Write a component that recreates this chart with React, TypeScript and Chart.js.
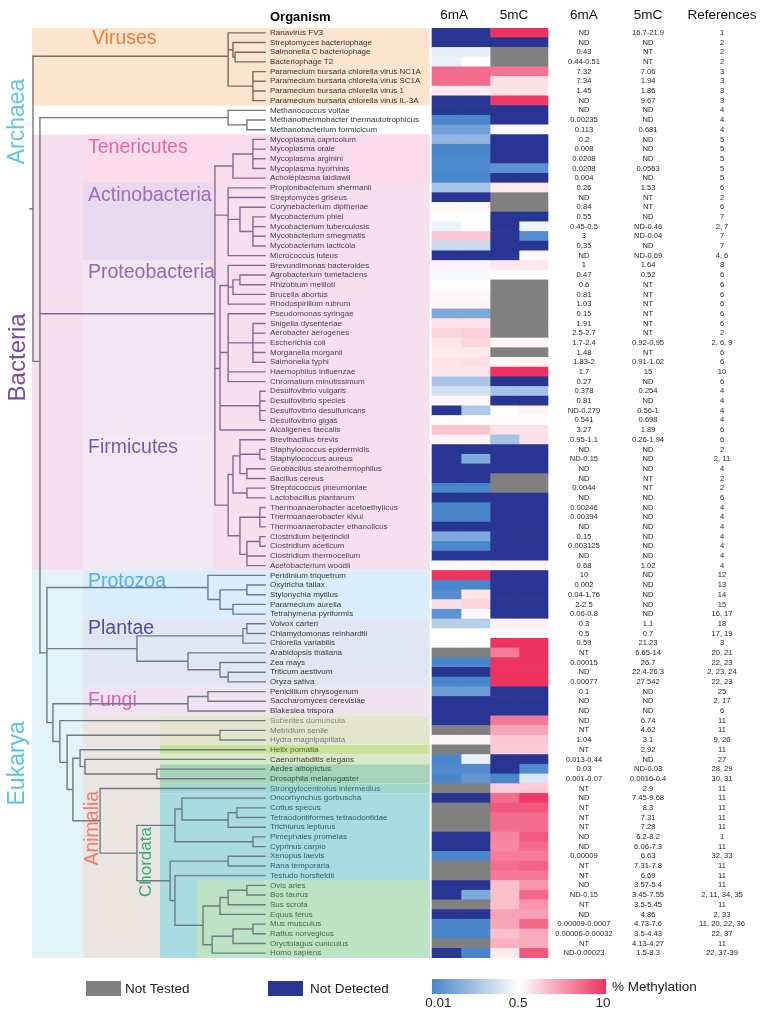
import { useEffect, useRef } from "react";
import { Chart, registerables } from "chart.js";

Chart.register(...registerables);

const FONT = '"Liberation Sans", Arial, Helvetica, sans-serif';
Chart.defaults.font.family = FONT;

const W = 767;
const H = 1017;

// ---------------- data ----------------
const ORGANISMS = [
  "Ranavirus FV3", "Streptomyces bacteriophage", "Salmonella C bacteriophage", "Bacteriophage T2",
  "Paramecium bursaria chlorella virus NC1A", "Paramecium bursaria chlorella virus SC1A",
  "Paramecium bursaria chlorella virus 1", "Paramecium bursaria chlorella virus IL-3A",
  "Methanococcus voltae", "Methanothermobacter thermautotrophicus", "Methanobacterium formicicum",
  "Mycoplasma capricolum", "Mycoplasma orale", "Mycoplasma arginini", "Mycoplasma hyorhinis", "Acholeplasma laidlawii",
  "Propionibacterium shermanii", "Streptomyces griseus", "Corynebacterium diptheriae", "Mycobacterium phlei",
  "Mycobacterium tuberculosis", "Mycobacterium smegmatis", "Mycobacterium lacticola", "Micrococcus luteus",
  "Brevundimonas bacteroides", "Agrobacterium tumefaciens", "Rhizobium meliloti", "Brucella abortus",
  "Rhodospirillum rubrum", "Pseudomonas syringae", "Shigella dysenteriae", "Aerobacter aerogenes",
  "Escherichia coli", "Morganella morganii", "Salmonella typhi", "Haemophilus influenzae",
  "Chromatium minutissimum", "Desulfovibrio vulgaris", "Desulfovibrio species", "Desulfovibrio desulfuricans",
  "Desulfovibrio gigas", "Alcaligenes faecalis", "Brevibacillus brevis", "Staphylococcus epidermidis",
  "Staphylococcus aureus", "Geobacillus stearothermophilus", "Bacillus cereus", "Streptococcus pneumoniae",
  "Lactobacillus plantarum", "Thermoanaerobacter acetoethylicus", "Thermoanaerobacter kivui",
  "Thermoanaerobacter ethanolicus", "Clostridium beijerinckii", "Clostridium aceticum", "Clostridium thermocellum",
  "Acetobacterium woodii", "Peridinium triquetrum", "Oxytricha fallax", "Stylonychia mytilus", "Paramecium aurelia",
  "Tetrahymena pyriformis", "Volvox carteri", "Chlamydomonas reinhardtii", "Chlorella variabilis",
  "Arabidopsis thaliana", "Zea mays", "Triticum aestivum", "Oryza sativa", "Penicillium chrysogenum",
  "Saccharomyces cerevisiae", "Blakeslea trispora", "Suberites domuncula", "Metridium senile",
  "Hydra magnipapillata", "Helix pomatia", "Caenorhabditis elegans", "Aedes albopictus", "Drosophila melanogaster",
  "Strongylocentrotus intermedius", "Oncorhynchus gorbuscha", "Cottus specus", "Tetraodontiformes tetraodontidae",
  "Trichiurus lepturus", "Pimephales promelas", "Cyprinus carpio", "Xenopus laevis", "Rana temporaria",
  "Testudo horsfieldii", "Ovis aries", "Bos taurus", "Sus scrofa", "Equus ferus", "Mus musculus",
  "Rattus norvegicus", "Oryctolagus cuniculus", "Homo sapiens",
];

const M6A = [
  "ND", "ND", "0.43", "0.44-0.51", "7.32", "7.34", "1.45", "ND", "ND", "0.00235", "0.113",
  "0.2", "0.008", "0.0208", "0.0208", "0.004", "0.26", "ND", "0.84", "0.55", "0.45-0.5", "3", "0.35", "ND",
  "1", "0.47", "0.6", "0.81", "1.03", "0.15", "1.91", "2.5-2.7", "1.7-2.4", "1.48", "1.83-2", "1.7", "0.27",
  "0.378", "0.81", "ND-0.279", "0.541", "3.27", "0.95-1.1", "ND", "ND-0.15", "ND", "ND", "0.0044", "ND",
  "0.00246", "0.00394", "ND", "0.15", "0.003125", "ND", "0.68", "10", "0.002", "0.04-1.76", "2-2.5",
  "0.06-0.8", "0.3", "0.5", "0.59", "NT", "0.00015", "ND", "0.00077", "0.1", "ND", "ND", "ND", "NT", "1.04",
  "NT", "0.013-0.44", "0.03", "0.001-0.07", "NT", "ND", "NT", "NT", "NT", "ND", "ND", "0.00009", "NT", "NT",
  "ND", "ND-0.15", "NT", "ND", "0.00009-0.0007", "0.00006-0.00032", "NT", "ND-0.00023",
];

const M5C = [
  "16.7-21.9", "ND", "NT", "NT", "7.06", "1.94", "1.86", "9.67", "ND", "ND", "0.681",
  "ND", "ND", "ND", "0.0563", "ND", "1.53", "NT", "NT", "ND", "ND-0.46", "ND-0.04", "ND", "ND-0.69",
  "1.64", "0.52", "NT", "NT", "NT", "NT", "NT", "NT", "0.92-0.95", "NT", "0.91-1.02", "15", "ND",
  "0.254", "ND", "0.56-1", "0.698", "1.89", "0.26-1.94", "ND", "ND", "ND", "NT", "NT", "ND",
  "ND", "ND", "ND", "ND", "ND", "ND", "1.02", "ND", "ND", "ND", "ND",
  "ND", "1.1", "0.7", "21.23", "6.65-14", "26.7", "22.4-26.3", "27.542", "ND", "ND", "ND", "6.74", "4.62", "3.1",
  "2.92", "ND", "ND-0.03", "0.0016-0.4", "2.9", "7.45-9.68", "8.3", "7.31", "7.28", "6.2-8.2", "6.06-7.3", "6.63", "7.31-7.8", "6.69",
  "3.57-5.4", "3.45-7.55", "3.5-5.45", "4.86", "4.73-7.6", "3.5-4.43", "4.13-4.27", "1.5-8.3",
];

const REFS = [
  "1", "2", "2", "2", "3", "3", "3", "3", "4", "4", "4",
  "5", "5", "5", "5", "5", "6", "2", "6", "7", "2, 7", "7", "7", "4, 6",
  "8", "6", "6", "6", "6", "6", "6", "2", "2, 6, 9", "6", "6", "10", "6",
  "4", "4", "4", "4", "6", "6", "2", "2, 11", "4", "2", "2", "6",
  "4", "4", "4", "4", "4", "4", "4", "12", "13", "14", "15",
  "16, 17", "18", "17, 19", "3", "20, 21", "22, 23", "2, 23, 24", "22, 23", "25", "2, 17", "6", "11", "11", "9, 26",
  "11", "27", "28, 29", "30, 31", "11", "11", "11", "11", "11", "1", "11", "32, 33", "11", "11",
  "11", "2, 11, 34, 35", "11", "2, 33", "11, 20, 22, 36", "22, 37", "11", "22, 37-39",
];

const LEGEND_TICKS = ["0.01", "0.5", "10"];

// tree: n(depth, ...children); leaves are row indices (depth 100)
type TNode = { d: number; kids: (TNode | number)[] };
const n = (d: number, ...kids: (TNode | number)[]): TNode => ({ d, kids });
const LEAF_DEPTH = 100;

const VIRUS_TREE = n(84.1, 0, n(86.2, 1, n(87.1, 2, 3)), n(94.8, 4, 5, 6, 7));
const ARCHAEA_TREE = n(84.1, 8, n(92.2, 9, 10));
const TENERICUTES_TREE = n(86.2, n(94.8, 11, 12, 13, 14), 15);
const ACTINO_TREE = n(84.1, 16, 17, n(89.2, 18, n(94.8, 19, 20, 21, 22)), 23);
const PROTEO_TREE = n(80.6,
  n(84.1, 24, n(86.2, n(89.2, 25, 26), 27), 28),
  n(84.1, 29, n(94.8, 30, 31, 32, 33, 34), 35, 36),
  n(97.8, 37, 38, 39, 40),
  41);
const FIRMICUTES_TREE = n(84.1,
  n(86.2, n(89.2, 42, n(97.8, 43, 44), n(92.2, 45, 46)), n(92.2, 47, 48)),
  n(89.2, n(97.8, 49, 50, 51), n(92.2, n(97.8, 52, 53), 54, 55)));
const PROTOZOA_TREE = n(75.4, 56, n(80.6, n(92.2, 57, 58), n(86.2, 59, 60)));
const PLANTAE_TREE = n(44.8, n(90.5, n(92.2, 61, 62), 63), n(66.8, 64, n(80.6, 65, n(84.1, 66, 67))));
const FUNGI_TREE = n(66.8, n(75.4, 68, 69), 70);
const MAMMAL_TREE = n(73.3,
  n(80.6, n(84.1, n(92.2, 88, 89), 90), 91),
  n(77.2, n(86.2, n(94.8, 92, 93), 94), 95));
const CHORDATA_TREE = n(44.8,
  n(61.2, n(64.2, 79, n(84.1, n(87.9, 80, 81), 82)), n(94.8, 83, 84)),
  n(59.1, n(84.1, 85, 86), n(61.2, 87, MAMMAL_TREE)));
const ANIMALIA_TREE = n(11.6, 71,
  n(14.7, n(80.6, 72, 73),
    n(17.2,
      n(20.3, 74, n(22.4, 75, n(53.4, 76, 77))),
      n(28.9, 78, CHORDATA_TREE))));
const TREE = n(0,
  VIRUS_TREE,
  n(3.0,
    ARCHAEA_TREE,
    n(78.4, TENERICUTES_TREE, ACTINO_TREE, PROTEO_TREE, FIRMICUTES_TREE),
    n(6.0, PROTOZOA_TREE, PLANTAE_TREE, n(8.6, FUNGI_TREE, ANIMALIA_TREE))));

// ---------------- layout / style ----------------
const ROW_TOP = 28;
const ROW_BOTTOM = 958;
const HEAT_LEFT = 432;
const CELL_W = 29;
const TREE_X0 = 33;
const TREE_K = 2.32;
const NAME_X = 270;
const COL_6MA = 5.24;
const COL_5MC = 7.45;
const COL_REF = 10.0;

const DOMAINS = [
  { from: 0, to: 7, line: "#7b6a5e" },
  { from: 8, to: 10, line: "#767676" },
  { from: 11, to: 55, line: "#806a96" },
  { from: 56, to: 95, line: "#6c7b86" },
];
const TRUNK = "#777777";

const BANDS: [number, number, number, number, string][] = [
  [0, 7, -0.4, 171, "#fde4cc"],
  [11, 55, -0.4, 171, "#f7e0ee"],
  [11, 15, 21.5, 171, "#fcdcea"],
  [16, 23, 21.5, 77.6, "#e7daee"],
  [24, 41, 21.5, 77.6, "#f3e6f3"],
  [42, 55, 21.5, 77.6, "#f2e9f5"],
  [56, 95, -0.4, 21.5, "#e2f3f8"],
  [56, 60, 21.5, 171, "#d9eefa"],
  [61, 67, 21.5, 171, "#e2e6f4"],
  [68, 70, 21.5, 171, "#f0e2f1"],
  [71, 95, 21.5, 54.7, "#ebe5e1"],
  [71, 73, 54.7, 171, "#e3e5ce"],
  [74, 74, 54.7, 171, "#c9e19b"],
  [75, 75, 54.7, 171, "#d8e8ca"],
  [76, 77, 54.7, 171, "#a6d4b6"],
  [78, 78, 54.7, 171, "#a2d7cd"],
  [79, 95, 54.7, 171, "#a9dce1"],
  [88, 95, 70.7, 171, "#bee3c4"],
];

const CLADE_LABELS = [
  { t: "Viruses", d: 25.4, r: 0.55, c: "#f07a3a", s: 19.5, rot: false },
  { t: "Tenericutes", d: 23.7, r: 11.8, c: "#df6aaa", s: 19.5, rot: false },
  { t: "Actinobacteria", d: 23.7, r: 16.85, c: "#a46ab9", s: 19.5, rot: false },
  { t: "Proteobacteria", d: 23.7, r: 24.7, c: "#9466b3", s: 19.5, rot: false },
  { t: "Firmicutes", d: 23.7, r: 42.85, c: "#6f5fb0", s: 19.5, rot: false },
  { t: "Protozoa", d: 23.7, r: 56.6, c: "#58aee8", s: 19.5, rot: false },
  { t: "Plantae", d: 23.7, r: 61.5, c: "#4d4e9e", s: 19.5, rot: false },
  { t: "Fungi", d: 23.7, r: 68.9, c: "#d466b4", s: 19.5, rot: false },
  { t: "Archaea", d: -6.6, r: 9.15, c: "#5ec9d9", s: 23, rot: true },
  { t: "Bacteria", d: -6.4, r: 33.5, c: "#7b4c9e", s: 24, rot: true },
  { t: "Eukarya", d: -6.6, r: 75.4, c: "#56c6e0", s: 23, rot: true },
  { t: "Animalia", d: 25.6, r: 82.1, c: "#f27b6c", s: 19.5, rot: true },
  { t: "Chordata", d: 48.7, r: 85.6, c: "#2fb272", s: 17, rot: true },
];

function nameColor(i: number): string {
  if (i <= 10) return "#333333";
  if (i <= 55) return "#4a3a5e";
  if (i <= 70) return "#383838";
  if (i === 71) return "#8c8c72";
  if (i <= 73) return "#757575";
  if (i === 74) return "#55661f";
  if (i === 75) return "#404040";
  if (i <= 77) return "#2d5a44";
  if (i === 78) return "#3f6f6a";
  if (i <= 87) return "#2f5f66";
  return "#3e6e40";
}

const BLUE = [74, 134, 204];
const RED = [239, 51, 97];
const ND_COLOR = "#283593";
const NT_COLOR = "#808080";

function mix(c: number[], t: number): string {
  const f = (k: number) => Math.round(255 + (c[k] - 255) * t);
  return `rgb(${f(0)},${f(1)},${f(2)})`;
}
function cellColor(token: string): string {
  if (token === "ND") return ND_COLOR;
  if (token === "NT") return NT_COLOR;
  const v = parseFloat(token);
  if (v <= 0.5) return mix(BLUE, Math.max(0, Math.min(1, (0.5 - v) / 0.49)));
  return mix(RED, Math.max(0, Math.min(1, (v - 0.5) / 9.5)));
}
function splitRange(s: string): [string, string] {
  const p = s.split("-");
  return p.length > 1 ? [p[0], p[1]] : [s, s];
}

// tree layout
type Seg = { x0: number; x1: number; y0: number; y1: number; lo: number; hi: number };
function layoutTree(node: TNode | number, segs: Seg[]): { y: number; d: number; lo: number; hi: number } {
  if (typeof node === "number") return { y: node, d: LEAF_DEPTH, lo: node, hi: node };
  const kids = node.kids.map((k) => layoutTree(k, segs));
  const ys = kids.map((k) => k.y);
  const y = ys.reduce((a, b) => a + b, 0) / ys.length;
  const lo = Math.min(...kids.map((k) => k.lo));
  const hi = Math.max(...kids.map((k) => k.hi));
  for (const k of kids) segs.push({ x0: node.d, x1: k.d, y0: k.y, y1: k.y, lo: k.lo, hi: k.hi });
  segs.push({ x0: node.d, x1: node.d, y0: Math.min(...ys), y1: Math.max(...ys), lo, hi });
  return { y, d: node.d, lo, hi };
}

function buildTreeDatasets() {
  const segs: Seg[] = [];
  const root = layoutTree(TREE, segs);
  segs.push({ x0: -1.2, x1: 0, y0: root.y, y1: root.y, lo: 0, hi: 95 });
  const groups = new Map<string, { x: number; y: number }[]>();
  for (const s of segs) {
    const dom = DOMAINS.find((d) => s.lo >= d.from && s.hi <= d.to);
    const col = dom ? dom.line : TRUNK;
    if (!groups.has(col)) groups.set(col, []);
    groups.get(col)!.push({ x: s.x0, y: s.y0 }, { x: s.x1, y: s.y1 }, { x: NaN, y: NaN });
  }
  return [...groups.entries()].map(([col, pts]) => ({
    type: "scatter" as const,
    label: "tree",
    data: pts,
    showLine: true,
    spanGaps: false,
    borderColor: col,
    borderWidth: 1.4,
    borderCapStyle: "square" as const,
    pointRadius: 0,
    pointHoverRadius: 0,
    pointHitRadius: 0,
    xAxisID: "xt",
    yAxisID: "y",
  }));
}

function buildHeatDatasets() {
  const cols = [
    M6A.map((s) => splitRange(s)[0]),
    M6A.map((s) => splitRange(s)[1]),
    M5C.map((s) => splitRange(s)[0]),
    M5C.map((s) => splitRange(s)[1]),
  ];
  return cols.map((tokens, k) => ({
    type: "bar" as const,
    label: ["6mA min", "6mA max", "5mC min", "5mC max"][k],
    indexAxis: "y" as const,
    data: tokens.map((_, i) => ({ x: [k, k + 1], y: i })),
    backgroundColor: tokens.map(cellColor),
    borderWidth: 0,
    grouped: false,
    barPercentage: 1,
    categoryPercentage: 1,
    xAxisID: "x",
    yAxisID: "y",
  }));
}

const overlayPlugin = {
  id: "overlay",
  beforeDraw(chart: any) {
    const { ctx } = chart;
    const xt = chart.scales.xt;
    const y = chart.scales.y;
    ctx.save();
    ctx.fillStyle = "#ffffff";
    ctx.fillRect(0, 0, W, H);
    for (const [r0, r1, d0, d1, col] of BANDS) {
      const x0 = xt.getPixelForValue(d0);
      const x1 = xt.getPixelForValue(d1);
      const y0 = y.getPixelForValue(r0 - 0.5);
      const y1 = y.getPixelForValue(r1 + 0.5);
      ctx.fillStyle = col;
      ctx.fillRect(x0, y0, x1 - x0, y1 - y0);
    }
    for (const L of CLADE_LABELS) {
      const px = xt.getPixelForValue(L.d);
      const py = y.getPixelForValue(L.r);
      ctx.fillStyle = L.c;
      ctx.font = `${L.s}px ${FONT}`;
      ctx.textBaseline = "middle";
      if (L.rot) {
        ctx.save();
        ctx.translate(px, py);
        ctx.rotate(-Math.PI / 2);
        ctx.textAlign = "center";
        ctx.fillText(L.t, 0, 0);
        ctx.restore();
      } else {
        ctx.textAlign = "left";
        ctx.fillText(L.t, px, py);
      }
    }
    ctx.restore();
  },
  afterDraw(chart: any) {
    const { ctx } = chart;
    const x = chart.scales.x;
    const y = chart.scales.y;
    ctx.save();
    ctx.textBaseline = "middle";
    ctx.fillStyle = "#000";
    ctx.font = `bold 13px ${FONT}`;
    ctx.textAlign = "left";
    ctx.fillText("Organism", NAME_X, 17);
    ctx.font = `13.5px ${FONT}`;
    ctx.fillStyle = "#111";
    ctx.textAlign = "center";
    ctx.fillText("6mA", x.getPixelForValue(0.76), 15);
    ctx.fillText("5mC", x.getPixelForValue(2.83), 15);
    ctx.fillText("6mA", x.getPixelForValue(COL_6MA), 15);
    ctx.fillText("5mC", x.getPixelForValue(COL_5MC), 15);
    ctx.fillText("References", x.getPixelForValue(COL_REF), 15);
    ctx.font = `7.6px ${FONT}`;
    ctx.fillStyle = "#1e1e1e";
    for (let i = 0; i < ORGANISMS.length; i++) {
      const py = y.getPixelForValue(i);
      ctx.fillText(M6A[i], x.getPixelForValue(COL_6MA), py);
      ctx.fillText(M5C[i], x.getPixelForValue(COL_5MC), py);
      ctx.fillText(REFS[i], x.getPixelForValue(COL_REF), py);
    }
    ctx.fillStyle = NT_COLOR;
    ctx.fillRect(86, 981, 35, 15);
    ctx.fillStyle = ND_COLOR;
    ctx.fillRect(268, 981, 35, 15);
    ctx.fillStyle = "#222";
    ctx.font = `13.5px ${FONT}`;
    ctx.textAlign = "left";
    ctx.fillText("Not Tested", 125, 989);
    ctx.fillText("Not Detected", 310, 989);
    const g0 = x.getPixelForValue(0);
    const g1 = x.getPixelForValue(6);
    const grad = ctx.createLinearGradient(g0, 0, g1, 0);
    grad.addColorStop(0, mix(BLUE, 1));
    grad.addColorStop(0.5, "#ffffff");
    grad.addColorStop(1, mix(RED, 1));
    ctx.fillStyle = grad;
    ctx.fillRect(g0, 979, g1 - g0, 15);
    ctx.fillStyle = "#222";
    ctx.fillText("% Methylation", g1 + 6, 987);
    ctx.textAlign = "center";
    const tickPos = [0.22, 2.97, 5.9];
    LEGEND_TICKS.forEach((t, i) => ctx.fillText(t, x.getPixelForValue(tickPos[i]), 1003));
    ctx.restore();
  },
};

export default function App() {
  const ref = useRef<HTMLCanvasElement>(null);
  useEffect(() => {
    const chart = new Chart(ref.current!, {
      type: "bar",
      data: {
        datasets: [...buildHeatDatasets(), ...buildTreeDatasets()] as any,
      },
      options: {
        animation: false,
        responsive: false,
        devicePixelRatio: 1,
        layout: { padding: { top: ROW_TOP, bottom: H - ROW_BOTTOM, left: 0, right: 0 } },
        plugins: { legend: { display: false }, tooltip: { enabled: false }, title: { display: false } },
        events: [],
        scales: {
          x: {
            type: "linear", axis: "x", position: "bottom", display: false, offset: false,
            min: -HEAT_LEFT / CELL_W, max: (W - HEAT_LEFT) / CELL_W, beginAtZero: false,
          },
          xt: {
            type: "linear", axis: "x", position: "bottom", display: false, offset: false,
            min: -TREE_X0 / TREE_K, max: (W - TREE_X0) / TREE_K, beginAtZero: false,
          },
          y: {
            type: "linear", axis: "y", position: "left", display: false, offset: false,
            reverse: true, min: -0.5, max: ORGANISMS.length - 0.5, beginAtZero: false,
          },
          yn: {
            type: "category", axis: "y", position: "left", labels: ORGANISMS, offset: true,
            grid: { display: false, drawTicks: false }, border: { display: false },
            ticks: {
              autoSkip: false, mirror: true, padding: NAME_X,
              font: { family: FONT, size: 8 },
              color: (c: any) => nameColor(c.index),
            },
            afterFit: (s: any) => {
              s.width = 0;
              s.paddingTop = 0;
              s.paddingBottom = 0;
            },
          },
        } as any,
      },
      plugins: [overlayPlugin],
    });
    return () => chart.destroy();
  }, []);
  return (
    <div style={{ position: "absolute", left: 0, top: 0, width: W, height: H }}>
      <canvas ref={ref} width={W} height={H} style={{ display: "block", width: W, height: H }} />
    </div>
  );
}
